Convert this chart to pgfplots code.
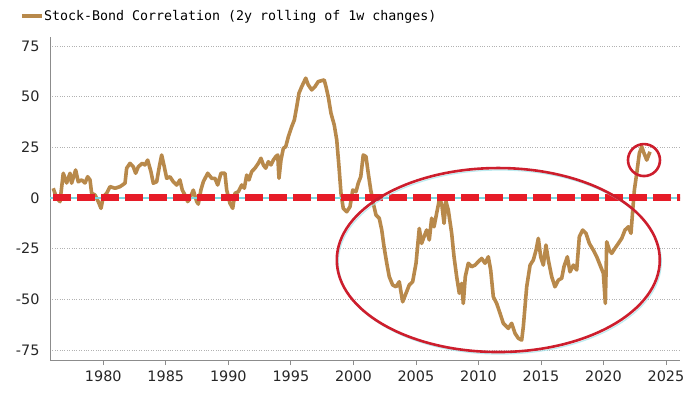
\documentclass[border=0pt]{standalone}
\usepackage{fontspec}
\setmainfont{DejaVu Sans}
\newfontfamily\monofont{DejaVu Sans Mono}
\usepackage{pgfplots}
\pgfplotsset{compat=1.18}
\definecolor{tan}{RGB}{184,137,75}
\definecolor{zred}{RGB}{230,28,40}
\definecolor{ered}{RGB}{205,30,45}
\definecolor{zcyan}{RGB}{120,215,225}
\begin{document}
\begin{tikzpicture}
\useasboundingbox (0,0) rectangle (700bp,394bp);
\begin{axis}[
  at={(50bp,34bp)}, anchor=south west,
  scale only axis, width=630bp, height=323bp,
  xmin=1975.74, xmax=2026.12, ymin=-79.9, ymax=79.4,
  axis lines=left, axis line style={-, draw=black!45, line width=0.8bp},
  xtick={1980,1985,...,2025},
  ytick={-75,-50,-25,0,25,50,75},
  xticklabel style={/pgf/number format/1000 sep={}, yshift=-2bp},
  yticklabel style={xshift=-2bp},
  tick label style={font=\fontsize{14.4bp}{17bp}\selectfont, text=black!85},
  /pgf/number format/assume math mode=true,
  x tick style={draw=black!45, line width=0.8bp},
  y tick style={draw=none},
  tick align=outside, major tick length=5bp,
  ymajorgrids,
  major grid style={draw=black!30, line width=0.7bp, dash pattern=on 0.8bp off 1.6bp},
  legend style={at={(-0.048,1.065)}, anchor=west, draw=none, fill=none,
    inner sep=0pt, font=\monofont\fontsize{13.3bp}{15bp}\selectfont,
    nodes={inner xsep=0.5bp}},
  legend image code/.code={\draw[#1] (0bp,0bp) -- (20bp,0bp);},
]
\addplot[tan, line width=3.6bp, line join=round] coordinates {
(1976.00,4.8) (1976.27,-0.1) (1976.54,-1.8) (1976.80,12.2) (1977.07,7.4) (1977.34,12.2)
(1977.47,7.3) (1977.79,13.8) (1978.00,8.0) (1978.27,8.9) (1978.54,7.4) (1978.75,10.5)
(1978.94,8.9) (1979.07,2.3) (1979.34,1.5) (1979.60,-1.8) (1979.82,-5.1) (1980.00,0.6)
(1980.27,2.3) (1980.54,5.6) (1980.94,4.8) (1981.34,5.6) (1981.74,7.3) (1981.87,14.7)
(1982.14,17.1) (1982.40,15.4) (1982.59,12.2) (1982.80,15.4) (1983.12,17.1) (1983.33,16.3)
(1983.55,18.7) (1983.81,13.0) (1984.00,7.3) (1984.27,8.0) (1984.48,15.4) (1984.67,21.2)
(1984.88,15.4) (1985.07,9.7) (1985.33,10.5) (1985.60,8.0) (1985.87,6.4) (1986.13,8.9)
(1986.32,3.9) (1986.53,1.5) (1986.75,-1.8) (1986.93,-0.1) (1987.20,3.9) (1987.47,-1.8)
(1987.60,-3.0) (1987.81,4.0) (1988.00,8.0) (1988.35,12.2) (1988.67,9.7) (1988.93,9.7)
(1989.15,6.4) (1989.41,12.2) (1989.73,12.2) (1989.87,3.9) (1990.13,-2.6) (1990.35,-5.1)
(1990.53,2.3) (1990.80,3.1) (1991.07,6.4) (1991.28,4.8) (1991.47,11.3) (1991.65,8.9)
(1991.87,13.0) (1992.13,14.7) (1992.40,17.1) (1992.61,19.6) (1992.80,16.3) (1992.99,14.7)
(1993.20,17.9) (1993.41,16.3) (1993.60,18.7) (1993.79,20.4) (1993.95,21.2) (1994.05,9.7)
(1994.21,18.7) (1994.40,24.5) (1994.59,25.3) (1994.80,30.2) (1995.07,35.2) (1995.28,38.5)
(1995.47,45.0) (1995.65,51.7) (1995.87,54.9) (1996.19,59.1) (1996.39,55.8) (1996.67,53.3)
(1996.93,54.9) (1997.19,57.4) (1997.47,57.9) (1997.67,58.2) (1997.81,54.9) (1997.99,50.0)
(1998.21,41.8) (1998.47,36.0) (1998.67,28.6) (1998.85,15.4) (1999.01,2.3) (1999.19,-5.1)
(1999.47,-6.8) (1999.73,-4.3) (1999.95,3.9) (2000.21,3.1) (2000.39,7.3) (2000.59,10.5)
(2000.79,21.2) (2001.01,20.4) (2001.19,12.2) (2001.39,3.9) (2001.59,-2.6) (2001.81,-8.4)
(2002.07,-10.0) (2002.27,-15.8) (2002.45,-24.0) (2002.67,-32.2) (2002.87,-38.8) (2003.14,-42.9)
(2003.41,-43.8) (2003.67,-41.3) (2003.94,-51.2) (2004.21,-47.0) (2004.47,-42.9) (2004.74,-41.3)
(2005.01,-32.2) (2005.27,-15.0) (2005.46,-22.4) (2005.65,-19.1) (2005.86,-15.8) (2006.07,-20.7)
(2006.26,-10.0) (2006.45,-14.2) (2006.66,-7.5) (2006.87,-1.0) (2007.06,-2.6) (2007.25,-12.5)
(2007.41,-1.8) (2007.59,-5.9) (2007.86,-17.4) (2008.05,-29.0) (2008.26,-38.8) (2008.47,-47.0)
(2008.66,-42.1) (2008.79,-52.0) (2008.95,-38.8) (2009.19,-32.2) (2009.46,-33.9) (2009.73,-33.1)
(2009.99,-31.4) (2010.26,-29.8) (2010.53,-32.2) (2010.79,-29.0) (2010.98,-35.5) (2011.19,-48.7)
(2011.46,-52.0) (2011.73,-56.9) (2011.99,-61.8) (2012.39,-64.3) (2012.66,-61.8) (2012.93,-66.8)
(2013.19,-69.2) (2013.46,-70.1) (2013.59,-63.5) (2013.86,-43.8) (2014.13,-33.1) (2014.39,-30.6)
(2014.61,-25.7) (2014.79,-19.9) (2014.98,-29.0) (2015.19,-33.1) (2015.40,-23.2) (2015.59,-30.6)
(2015.86,-38.8) (2016.12,-43.8) (2016.39,-40.5) (2016.66,-39.6) (2016.84,-33.9) (2017.11,-29.0)
(2017.32,-36.4) (2017.59,-33.1) (2017.86,-35.5) (2018.07,-19.1) (2018.34,-15.8) (2018.60,-17.4)
(2018.87,-22.4) (2019.19,-25.7) (2019.46,-29.0) (2019.78,-33.9) (2019.99,-37.2) (2020.15,-52.0)
(2020.26,-21.6) (2020.47,-25.7) (2020.66,-27.3) (2020.92,-24.8) (2021.19,-22.4) (2021.46,-19.9)
(2021.72,-15.8) (2021.99,-14.2) (2022.20,-17.4) (2022.34,-5.9) (2022.47,3.9) (2022.66,12.2)
(2022.87,22.1) (2023.06,25.3) (2023.24,22.1) (2023.46,18.7) (2023.72,22.8)
};
\addlegendentry{Stock-Bond Correlation (2y rolling of 1w changes)}
\addplot[zcyan, line width=1.2bp, forget plot] coordinates {(1975.74,0) (2026.3,0)};
\addplot[zred, line width=7bp, line cap=butt, dash pattern=on 18bp off 6bp, forget plot]
  coordinates {(1975.98,0) (2026.3,0)};
\draw[zcyan!70, line width=1.2bp, opacity=0.7] ([xshift=1.5bp,yshift=-2bp]axis cs:2011.59,-30.6) ellipse [x radius=161.5bp, y radius=92bp];
\draw[ered, line width=2.6bp] (axis cs:2011.59,-30.6) ellipse [x radius=161.5bp, y radius=92bp];
\draw[ered, line width=2.6bp] (axis cs:2023.24,18.7) circle [radius=16bp];
\end{axis}
\end{tikzpicture}
\end{document}
